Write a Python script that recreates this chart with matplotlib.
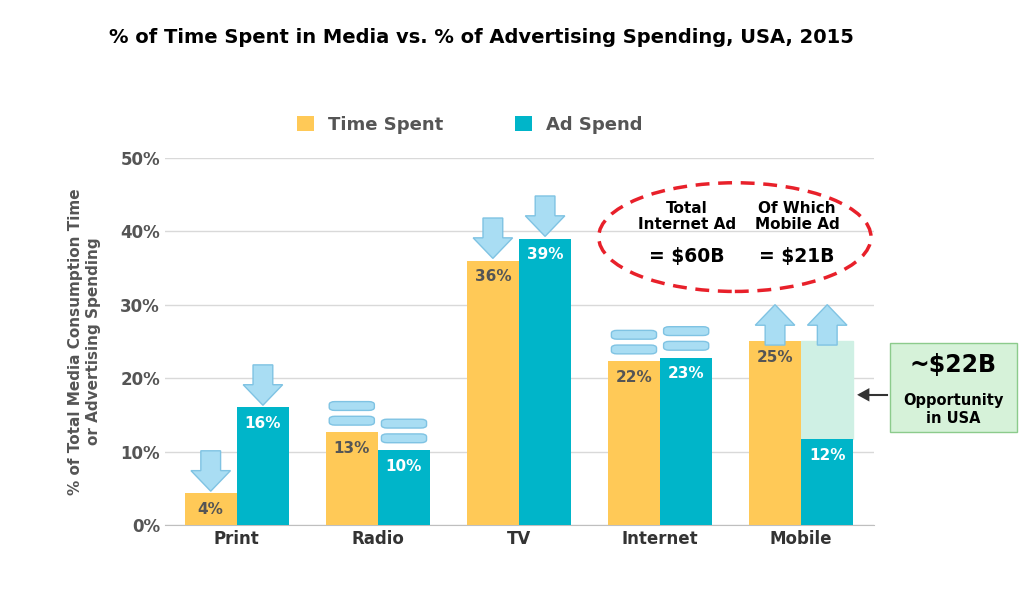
import matplotlib.pyplot as plt
from matplotlib.patches import Polygon, FancyBboxPatch, Ellipse, Rectangle

categories = ["Print", "Radio", "TV", "Internet", "Mobile"]
time_spent = [4.3, 12.6, 36, 22.3, 25]
ad_spend = [16, 10.2, 39, 22.8, 11.7]
time_labels = ["4%", "13%", "36%", "22%", "25%"]
ad_labels = ["16%", "10%", "39%", "23%", "12%"]
trend = ["down", "equal", "down", "equal", "up"]

YEL = "#FFC957"
TEAL = "#00B5C9"
ARROW = "#A9DDF3"
ARROW_EDGE = "#7FC3E3"

fig = plt.figure(figsize=(10.24, 6.14), dpi=100)
ax = fig.add_axes([0.161, 0.145, 0.693, 0.598])
w = 0.37
x = list(range(len(categories)))

ax.bar([i - w / 2 for i in x], time_spent, w, color=YEL, label="Time Spent", zorder=3)
ax.bar([i + w / 2 for i in x], ad_spend, w, color=TEAL, label="Ad Spend", zorder=3)
# mobile opportunity gap
ax.add_patch(Rectangle((4, ad_spend[4]), w, time_spent[4] - ad_spend[4],
                       color="#CFF0E4", zorder=2))

for i in x:
    ax.text(i - w / 2, time_spent[i] - 1.2, time_labels[i], ha="center", va="top",
            fontsize=11, fontweight="bold", color="#555555", zorder=5)
    ax.text(i + w / 2, ad_spend[i] - 1.2, ad_labels[i], ha="center", va="top",
            fontsize=11, fontweight="bold", color="white", zorder=5)


def arrow(xc, ybase, kind):
    sw, hw, h, hh = 0.07, 0.14, 5.5, 2.8
    if kind == "down":
        pts = [(xc - sw, ybase + h), (xc + sw, ybase + h), (xc + sw, ybase + hh),
               (xc + hw, ybase + hh), (xc, ybase), (xc - hw, ybase + hh), (xc - sw, ybase + hh)]
    else:
        pts = [(xc - sw, ybase), (xc + sw, ybase), (xc + sw, ybase + h - hh),
               (xc + hw, ybase + h - hh), (xc, ybase + h), (xc - hw, ybase + h - hh),
               (xc - sw, ybase + h - hh)]
    ax.add_patch(Polygon(pts, closed=True, fc=ARROW, ec=ARROW_EDGE, lw=1, zorder=4))


def equal(xc, ybase):
    for dy in (0.3, 2.3):
        ax.add_patch(FancyBboxPatch((xc - 0.16, ybase + dy), 0.32, 1.2,
                                    boxstyle="round,pad=0,rounding_size=0.04",
                                    fc=ARROW, ec=ARROW_EDGE, lw=1, zorder=4,
                                    mutation_aspect=10))


for i in x:
    for xc, v in ((i - w / 2, time_spent[i]), (i + w / 2, ad_spend[i])):
        if trend[i] == "down":
            arrow(xc, v + 0.3, "down")
        elif trend[i] == "up":
            arrow(xc, time_spent[i] - 0.5, "up")
        else:
            equal(xc, v + 0.7)

ax.set_xlim(-0.51, 4.52)
ax.set_ylim(0, 50)
ax.set_yticks(range(0, 51, 10))
ax.set_yticklabels([f"{v}%" for v in range(0, 51, 10)], fontsize=12,
                   fontweight="bold", color="#555555")
ax.set_xticks(x)
ax.set_xticklabels(categories, fontsize=12, fontweight="bold", color="#333333")
ax.tick_params(length=0)
ax.grid(axis="y", color="#D9D9D9", lw=1, zorder=0)
for s in ("top", "right", "left"):
    ax.spines[s].set_visible(False)
ax.spines["bottom"].set_color("#BFBFBF")
ax.set_ylabel("% of Total Media Consumption Time\nor Advertising Spending", fontsize=11,
              fontweight="bold", color="#555555", labelpad=14)

ax.legend(loc="lower center", bbox_to_anchor=(0.43, 1.02), ncol=2, frameon=False,
          prop={"weight": "bold", "size": 13}, handlelength=0.9,
          handleheight=0.9, columnspacing=4, labelcolor="#555555")

fig.text(0.47, 0.93, "% of Time Spent in Media vs. % of Advertising Spending, USA, 2015",
         ha="center", fontsize=14, fontweight="bold")

ax.add_patch(Ellipse((3.53, 39.2), 1.93, 14.8, fill=False, ec="#E8202A", lw=2.5,
                     ls=(0, (4, 2.5)), zorder=5, clip_on=False))
ax.text(3.19, 42.0, "Total\nInternet Ad", ha="center", va="center", fontsize=11,
        fontweight="bold", linespacing=1.1)
ax.text(3.19, 36.5, "= $60B", ha="center", va="center", fontsize=13.5, fontweight="bold")
ax.text(3.97, 42.0, "Of Which\nMobile Ad", ha="center", va="center", fontsize=11,
        fontweight="bold", linespacing=1.1)
ax.text(3.97, 36.5, "= $21B", ha="center", va="center", fontsize=13.5, fontweight="bold")

fig.patches.append(Rectangle((0.869, 0.296), 0.124, 0.145, transform=fig.transFigure,
                             fc="#D6F2D9", ec="#8CCB8C", lw=1))
fig.text(0.931, 0.405, "~$22B", ha="center", va="center", fontsize=17, fontweight="bold")
fig.text(0.931, 0.333, "Opportunity\nin USA", ha="center", va="center", fontsize=10.5,
         fontweight="bold", linespacing=1.2)
fig.add_artist(plt.Line2D([0.84, 0.866], [0.357, 0.357], color="#333333", lw=1.5))
fig.patches.append(Polygon([(0.837, 0.357), (0.849, 0.368), (0.849, 0.346)],
                           transform=fig.transFigure, fc="#333333"))

fig.savefig("out.png", dpi=100)
